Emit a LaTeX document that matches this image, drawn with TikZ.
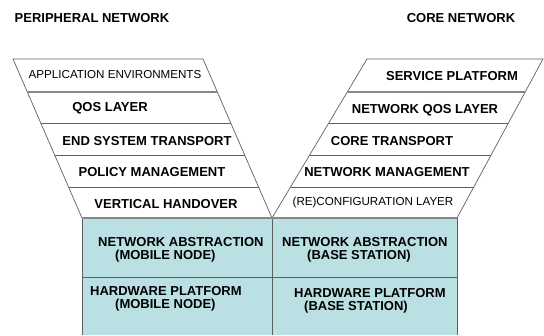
\documentclass[tikz,border=0pt]{standalone}
\usepackage{fontspec}
\setmainfont{Liberation Sans}
\usepackage{xcolor}
\usepackage{tikz}
\usetikzlibrary{calc,positioning}
\definecolor{stackfill}{RGB}{187,224,227}
\definecolor{edgegray}{RGB}{95,95,95}
\definecolor{rulegray}{RGB}{135,135,135}

\begin{document}
\begin{tikzpicture}[x=1pt,y=-1pt,
  every node/.style={font=\fontsize{13}{13}\selectfont\bfseries,inner sep=0pt},
  plainlabel/.style={font=\fontsize{11.6}{12}\selectfont},
  boxtext/.style={anchor=north west,align=left},
  edgeline/.style={draw=edgegray,line width=0.7pt},
  heavyrule/.style={draw=rulegray,line width=1.3pt},
  thinrule/.style={draw=edgegray,line width=0.7pt}
]
\useasboundingbox (0,0) rectangle (544,335);
% corners of the two funnels
\coordinate (ltl) at (13,59);
\coordinate (ltr) at (203,59);
\coordinate (lbl) at (82,218);
\coordinate (lbr) at (272,218);
\coordinate (rtl) at (367,59);
\coordinate (rtr) at (543,59);
\coordinate (rbl) at (272,218);
\coordinate (rbr) at (457,218);
% lower platform boxes
\fill[stackfill] (82,218) rectangle (457,335);
\draw[edgeline] (82,335) -- (lbl);
\draw[edgeline] (457,335) -- (rbr);
\draw[edgeline] (272,218) -- (272,335);
\draw[edgeline] (82,277) -- (457,277);
% funnels
\draw[edgeline] (lbl) -- (ltl) -- (ltr) -- (lbr);
\draw[edgeline] (rbl) -- (rtl) -- (rtr) -- (rbr);
\draw[heavyrule] (lbl) -- (rbr);
\draw[heavyrule] ($(ltl)!0.2075!(lbl)$) -- ($(ltr)!0.2075!(lbr)$);
\draw[heavyrule] ($(rtl)!0.2075!(rbl)$) -- ($(rtr)!0.2075!(rbr)$);
\foreach \t in {0.4025,0.6038,0.805} {
  \draw[thinrule] ($(ltl)!\t!(lbl)$) -- ($(ltr)!\t!(lbr)$);
  \draw[thinrule] ($(rtl)!\t!(rbl)$) -- ($(rtr)!\t!(rbr)$);
}
% headings
\node (periph) at (92,18) {PERIPHERAL NETWORK};
\node (core) at (461,18) {CORE NETWORK};
% peripheral layers
\node[plainlabel] (appenv) at (115,75) {APPLICATION ENVIRONMENTS};
\node (qos) at (110,108) {QOS LAYER};
\node (endsys) at (147,141) {END SYSTEM TRANSPORT};
\node (policy) at (152,172) {POLICY MANAGEMENT};
\node (handover) at (166,204) {VERTICAL HANDOVER};
% core layers
\node (service) at (452,76) {SERVICE PLATFORM};
\node (netqos) at (425,110) {NETWORK QOS LAYER};
\node (coretrans) at (392,141) {CORE TRANSPORT};
\node (netmgmt) at (387,172) {NETWORK MANAGEMENT};
\node[plainlabel] (reconf) at (373,202) {(RE)CONFIGURATION LAYER};
% platform boxes
\node[boxtext] (abstrmn) at (98,237) {NETWORK ABSTRACTION\\\hspace*{17pt}(MOBILE NODE)};
\node[boxtext] (hwmn) at (90,286.5) {HARDWARE PLATFORM\\\hspace*{25pt}(MOBILE NODE)};
\node[boxtext] (abstrbs) at (282,237) {NETWORK ABSTRACTION\\\hspace*{25pt}(BASE STATION)};
\node[boxtext] (hwbs) at (294,288.5) {HARDWARE PLATFORM\\\hspace*{10pt}(BASE STATION)};
\end{tikzpicture}
\end{document}
